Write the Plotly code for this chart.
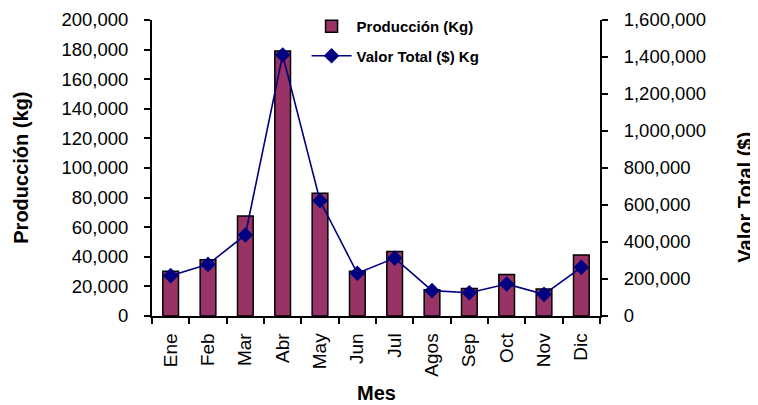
import plotly.graph_objects as go

# Datos por mes
meses = ['Ene', 'Feb', 'Mar', 'Abr', 'May', 'Jun', 'Jul', 'Agos', 'Sep', 'Oct', 'Nov', 'Dic']
produccion_kg = [30300, 38000, 67500, 179000, 83000, 30300, 43500, 17800, 18500, 28000, 18300, 41300]
valor_total = [218000, 279000, 438000, 1411000, 623000, 231000, 313000, 137000, 126000, 173000, 117000, 263000]

FONT = 'Liberation Sans, Arial, sans-serif'

fig = go.Figure()

# Barras de produccion
fig.add_trace(go.Bar(
    x=meses,
    y=produccion_kg,
    name='<b>Producción (Kg)</b>',
    marker=dict(color='#993366', line=dict(color='black', width=1.5)),
    width=0.42,
    legendgroup='a',
))

# Linea de valor total en eje secundario
fig.add_trace(go.Scatter(
    x=meses,
    y=valor_total,
    name='<b>Valor Total ($) Kg</b>',
    yaxis='y2',
    mode='lines+markers',
    line=dict(color='#000080', width=1.6),
    marker=dict(symbol='diamond', size=12, color='#000080'),
    legendgroup='b',
))

# la pagina html tiene 8px de margen en el body, se compensa aqui.
# el area de trazado no llega al borde superior del "paper" para que la
# leyenda quede dentro y no empuje los margenes
dom_top = 296 / 306

fig.update_layout(
    width=750,
    height=397,
    margin=dict(l=144, r=158, t=2, b=89),
    plot_bgcolor='white',
    paper_bgcolor='white',
    font=dict(family=FONT, color='black', size=17),
    showlegend=True,
    legend=dict(
        x=0.345, y=1.0, xanchor='left', yanchor='top',
        font=dict(size=15, color='black'),
        bgcolor='rgba(0,0,0,0)',
        tracegroupgap=7,
        itemwidth=40,
        traceorder='grouped',
    ),
    xaxis=dict(
        type='category',
        range=[-0.5, 11.5],
        automargin=False,
        showline=True, linecolor='black', linewidth=1.5,
        ticks='outside', tickson='boundaries', ticklen=6, tickcolor='black', tickwidth=1.5,
        tickangle=-90,
        tickfont=dict(size=19),
        ticklabelstandoff=8,
        showgrid=False,
    ),
    yaxis=dict(
        domain=[0, dom_top],
        range=[0, 200000],
        dtick=20000,
        tickformat=',d',
        automargin=False,
        showline=True, linecolor='black', linewidth=2,
        ticks='outside', ticklen=6, tickcolor='black', tickwidth=1.5,
        tickfont=dict(size=18.5),
        ticklabelstandoff=12,
        showgrid=False,
        zeroline=False,
    ),
    yaxis2=dict(
        range=[0, 1600000],
        dtick=200000,
        tickformat=',d',
        overlaying='y',
        side='right',
        automargin=False,
        showline=True, linecolor='black', linewidth=2,
        ticks='outside', ticklen=6, tickcolor='black', tickwidth=1.5,
        tickfont=dict(size=18.5),
        ticklabelstandoff=12,
        showgrid=False,
        zeroline=False,
    ),
    bargap=0.58,
)

# Titulos de los ejes
fig.add_annotation(text='<b>Producción (kg)</b>', xref='paper', yref='paper',
                   x=-0.293, y=0.4837, textangle=-90, showarrow=False,
                   font=dict(size=20), xanchor='center', yanchor='middle')
fig.add_annotation(text='<b>Valor Total ($)</b>', xref='paper', yref='paper',
                   x=1.323, y=0.389, textangle=-90, showarrow=False,
                   font=dict(size=20), xanchor='center', yanchor='middle')
fig.add_annotation(text='<b>Mes</b>', xref='paper', yref='paper',
                   x=0.5, y=-0.252, showarrow=False,
                   font=dict(size=20), xanchor='center', yanchor='middle')

fig.write_html("out.html")
